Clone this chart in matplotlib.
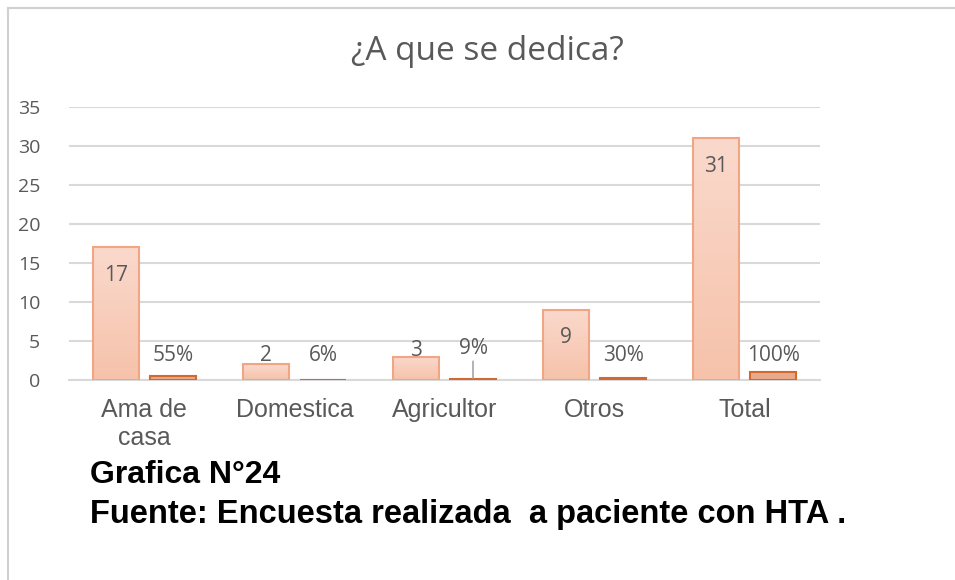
import numpy as np
import matplotlib.pyplot as plt
from matplotlib.lines import Line2D
from matplotlib.colors import LinearSegmentedColormap

categories = ['Ama de\ncasa', 'Domestica', 'Agricultor', 'Otros', 'Total']
counts = [17, 2, 3, 9, 31]
shares = [0.55, 0.06, 0.09, 0.30, 1.00]
share_labels = ['55%', '6%', '9%', '30%', '100%']
y_ticks = [0, 5, 10, 15, 20, 25, 30, 35]

TEXT = '#595959'
GRID = '#D9D9D9'

fig = plt.figure(figsize=(9.55, 5.8), dpi=100)
ax = fig.add_axes([0.0725, 0.3448, 0.786, 0.4707])

x = np.arange(len(categories))
width = 0.306
gap = 0.073
x1 = x - (width + gap) / 2
x2 = x + (width + gap) / 2

# series 1 with a light vertical gradient
bars1 = ax.bar(x1, counts, width, color='none', edgecolor='#F2A585', linewidth=1.5, zorder=3)
cmap = LinearSegmentedColormap.from_list('peach', ['#F6C2AA', '#FAD9CC'])
grad = np.linspace(0, 1, 256).reshape(-1, 1)
for b in bars1:
    im = ax.imshow(grad, cmap=cmap, aspect='auto', origin='lower',
                   extent=[b.get_x(), b.get_x() + b.get_width(), 0, b.get_height()],
                   zorder=2)
    im.set_clip_path(b)

ax.bar(x2, shares, width, color='#E9A98B', edgecolor='#D2692E', linewidth=1.5, zorder=3)

# data labels
lab_kw = dict(ha='center', va='center', fontsize=15, color=TEXT, family='Open Sans', zorder=4)
for xi, v in zip(x1, counts):
    if v > 5:
        ax.text(xi, v - 3.6, str(v), **lab_kw)
    else:
        ax.text(xi, v + 1.1 if v < 3 else v + 0.8, str(v), **lab_kw)
for xi, v, lab in zip(x2, shares, share_labels):
    if lab == '9%':
        ax.annotate(lab, xy=(xi, v + 0.15), xytext=(xi, 4.1),
                    arrowprops=dict(arrowstyle='-', color='#A6A6A6', lw=1.2,
                                    shrinkA=0, shrinkB=0), **lab_kw)
    else:
        ax.text(xi, 3.2, lab, **lab_kw)

ax.set_xlim(-0.5, len(categories) - 0.5)
ax.set_ylim(0, 35)
ax.set_yticks(y_ticks)
ax.yaxis.grid(True, color=GRID, linewidth=1.5)
ax.set_axisbelow(True)
for s in ['top', 'right', 'left']:
    ax.spines[s].set_visible(False)
ax.spines['bottom'].set_color(GRID)
ax.spines['bottom'].set_linewidth(1.5)
ax.tick_params(axis='both', length=0)
ax.tick_params(axis='y', pad=21, labelsize=14, labelcolor=TEXT)
ax.tick_params(axis='x', pad=13, labelsize=18, labelcolor=TEXT)
for t in ax.get_yticklabels():
    t.set_family('Open Sans')
ax.set_xticks(x)
ax.set_xticklabels(categories, family='Liberation Sans', linespacing=1.2)

fig.text(0.51, 1 - 52 / 580, '¿A que se dedica?', ha='center', va='center',
         fontsize=24, color=TEXT, family='Open Sans')

fig.text(0.094, 1 - 475 / 580, 'Grafica N°24', ha='left', va='center',
         fontsize=23, fontweight='bold', color='black', family='Liberation Sans')
fig.text(0.094, 1 - 515 / 580, 'Fuente: Encuesta realizada  a paciente con HTA .',
         ha='left', va='center', fontsize=23.5, fontweight='bold', color='black',
         family='Liberation Sans')

# outer chart frame (left and top edges only)
fig.add_artist(Line2D([8 / 955, 8 / 955], [0, 1 - 8 / 580], transform=fig.transFigure,
                      color='#D0D0D0', linewidth=1.5))
fig.add_artist(Line2D([8 / 955, 1], [1 - 8 / 580, 1 - 8 / 580], transform=fig.transFigure,
                      color='#D0D0D0', linewidth=1.5))

fig.savefig('out.png', dpi=100, facecolor='white')
